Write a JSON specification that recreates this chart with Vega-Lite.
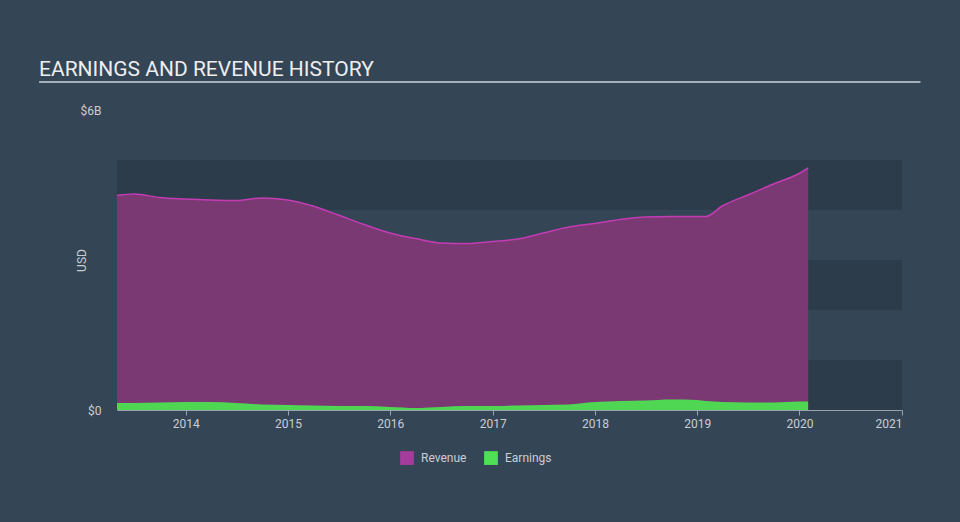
{
  "$schema": "https://vega.github.io/schema/vega-lite/v6.json",
  "width": 785,
  "height": 300,
  "autosize": {"type": "none"},
  "padding": {"left": 117, "top": 110, "right": 58, "bottom": 112},
  "background": "#344555",
  "title": {
    "text": "EARNINGS AND REVENUE HISTORY",
    "anchor": "start",
    "frame": "group",
    "dx": -78,
    "offset": -16,
    "baseline": "alphabetic",
    "font": "Roboto",
    "fontSize": 21,
    "fontWeight": "normal",
    "color": "#eceef0"
  },
  "config": {
    "view": {"stroke": null, "fill": "#2d3c4b"},
    "font": "Roboto"
  },
  "datasets": {
    "history": [
      {"date": "2013-05-01", "revenue": 4.29, "earnings": 0.14},
      {"date": "2013-07-01", "revenue": 4.32, "earnings": 0.14},
      {"date": "2013-09-30", "revenue": 4.25, "earnings": 0.15},
      {"date": "2013-12-31", "revenue": 4.22, "earnings": 0.16},
      {"date": "2014-03-31", "revenue": 4.20, "earnings": 0.16},
      {"date": "2014-06-30", "revenue": 4.19, "earnings": 0.14},
      {"date": "2014-09-30", "revenue": 4.24, "earnings": 0.11},
      {"date": "2014-12-31", "revenue": 4.20, "earnings": 0.10},
      {"date": "2015-03-31", "revenue": 4.08, "earnings": 0.09},
      {"date": "2015-06-30", "revenue": 3.90, "earnings": 0.08},
      {"date": "2015-09-30", "revenue": 3.71, "earnings": 0.08},
      {"date": "2015-12-31", "revenue": 3.54, "earnings": 0.06},
      {"date": "2016-03-31", "revenue": 3.43, "earnings": 0.04},
      {"date": "2016-06-30", "revenue": 3.34, "earnings": 0.06},
      {"date": "2016-09-30", "revenue": 3.33, "earnings": 0.08},
      {"date": "2016-12-31", "revenue": 3.37, "earnings": 0.08},
      {"date": "2017-03-31", "revenue": 3.42, "earnings": 0.09},
      {"date": "2017-06-30", "revenue": 3.54, "earnings": 0.10},
      {"date": "2017-09-30", "revenue": 3.66, "earnings": 0.11},
      {"date": "2017-12-31", "revenue": 3.73, "earnings": 0.16},
      {"date": "2018-03-31", "revenue": 3.81, "earnings": 0.18},
      {"date": "2018-06-30", "revenue": 3.86, "earnings": 0.19},
      {"date": "2018-09-30", "revenue": 3.87, "earnings": 0.21},
      {"date": "2018-12-31", "revenue": 3.87, "earnings": 0.20},
      {"date": "2019-02-01", "revenue": 3.87, "earnings": 0.18},
      {"date": "2019-03-31", "revenue": 4.08, "earnings": 0.16},
      {"date": "2019-06-30", "revenue": 4.30, "earnings": 0.15},
      {"date": "2019-09-30", "revenue": 4.52, "earnings": 0.15},
      {"date": "2019-12-31", "revenue": 4.73, "earnings": 0.17},
      {"date": "2020-02-01", "revenue": 4.84, "earnings": 0.17}
    ],
    "bands": [
      {"lo": 1, "hi": 2},
      {"lo": 3, "hi": 4},
      {"lo": 5, "hi": 6}
    ]
  },
  "layer": [
    {
      "data": {"name": "bands"},
      "mark": {"type": "rect", "fill": "#344555"},
      "encoding": {
        "y": {
          "field": "lo",
          "type": "quantitative",
          "scale": {"domain": [0, 6], "nice": false},
          "axis": {
            "values": [0, 6],
            "labelExpr": "datum.value == 0 ? '$0' : '$' + datum.value + 'B'",
            "grid": false,
            "domain": false,
            "ticks": false,
            "labelPadding": 16,
            "labelFontSize": 12,
            "labelColor": "#c9ced4",
            "labelFont": "Roboto",
            "title": "USD",
            "titleFont": "Roboto",
            "titleFontSize": 12,
            "titleFontWeight": "normal",
            "titleColor": "#c9ced4",
            "titleX": -29,
            "titleY": 150,
            "titleAlign": "center",
            "titleAngle": -90
          }
        },
        "y2": {"field": "hi"}
      }
    },
    {
      "data": {"name": "history"},
      "mark": {"type": "area", "interpolate": "monotone", "fill": "#7b3974"},
      "encoding": {
        "x": {
          "field": "date",
          "type": "temporal",
          "scale": {"domain": [{"year": 2013, "month": 5, "date": 1}, {"year": 2021, "month": 1, "date": 1}], "nice": false},
          "axis": {
            "values": [{"year": 2014}, {"year": 2015}, {"year": 2016}, {"year": 2017}, {"year": 2018}, {"year": 2019}, {"year": 2020}, {"year": 2021}],
            "format": "%Y",
            "grid": false,
            "title": null,
            "domainColor": "#9aa3ad",
            "tickColor": "#9aa3ad",
            "tickSize": 5,
            "labelPadding": 3,
            "labelFontSize": 12,
            "labelColor": "#c9ced4",
            "labelFont": "Roboto"
          }
        },
        "y": {"field": "revenue", "type": "quantitative"}
      }
    },
    {
      "data": {"name": "history"},
      "mark": {"type": "line", "interpolate": "monotone", "stroke": "#c33cb4", "strokeWidth": 1.5},
      "encoding": {
        "x": {"field": "date", "type": "temporal"},
        "y": {"field": "revenue", "type": "quantitative"}
      }
    },
    {
      "data": {"name": "history"},
      "mark": {"type": "area", "interpolate": "monotone", "fill": "#4fd653"},
      "encoding": {
        "x": {"field": "date", "type": "temporal"},
        "y": {"field": "earnings", "type": "quantitative"}
      }
    },
    {
      "data": {"name": "history"},
      "transform": [{"filter": "false"}],
      "mark": {"type": "square", "filled": true, "opacity": 1},
      "encoding": {
        "x": {"field": "date", "type": "temporal"},
        "y": {"field": "revenue", "type": "quantitative"},
        "color": {
          "field": "series",
          "type": "nominal",
          "scale": {"domain": ["Revenue", "Earnings"], "range": ["#a43c9c", "#50e055"]},
          "legend": {
            "title": null,
            "orient": "none",
            "direction": "horizontal",
            "legendX": 283,
            "legendY": 341,
            "symbolType": "square",
            "symbolSize": 190,
            "symbolStrokeWidth": 0,
            "symbolOpacity": 1,
            "labelFont": "Roboto",
            "labelFontSize": 12,
            "labelColor": "#c9ced4",
            "columnPadding": 17,
            "labelOffset": 7
          }
        }
      }
    },
    {
      "data": {"values": [{}]},
      "mark": {"type": "rule", "stroke": "#a8afb7", "strokeWidth": 2},
      "encoding": {
        "x": {"datum": {"year": 2012, "month": 7, "date": 27}, "type": "temporal"},
        "x2": {"datum": {"year": 2021, "month": 3, "date": 8}},
        "y": {"datum": 6.56, "type": "quantitative"}
      }
    }
  ]
}
